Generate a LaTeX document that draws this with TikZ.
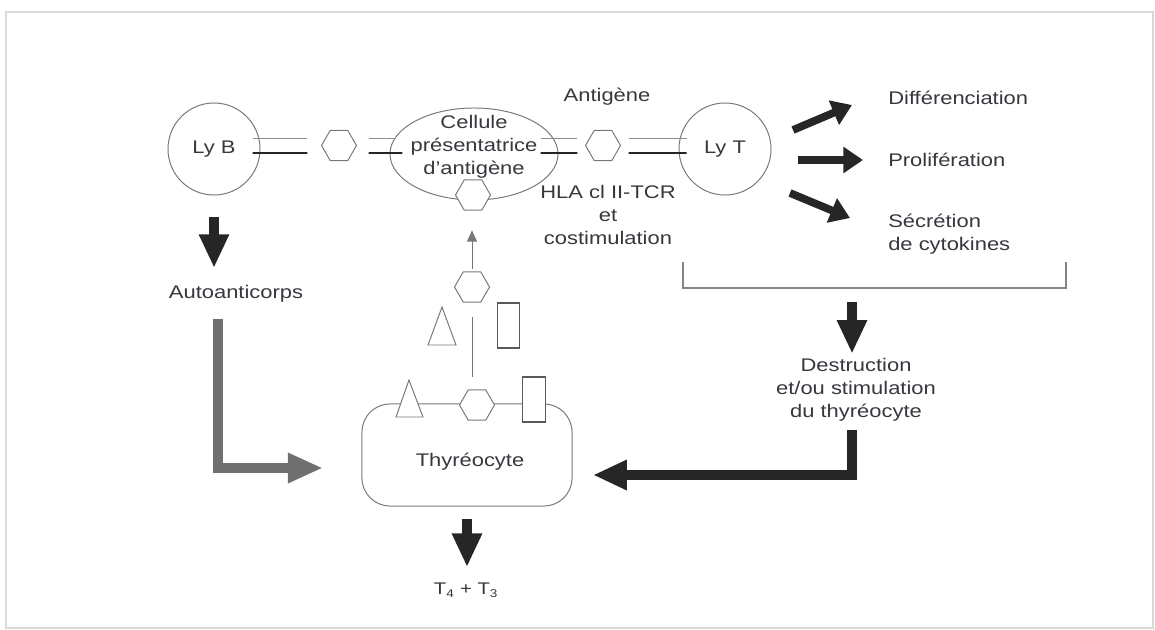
\documentclass[tikz,border=0pt]{standalone}
\usepackage{fontspec}
\setmainfont[FakeStretch=1.2]{Liberation Sans}
\usetikzlibrary{shapes.geometric,arrows.meta,calc}
\definecolor{txt}{RGB}{55,55,62}
\definecolor{edge}{RGB}{120,120,120}
\definecolor{ink}{RGB}{38,38,38}
\definecolor{autogray}{RGB}{112,112,112}

\begin{document}
\begin{tikzpicture}
  [x=0.025cm,y=-0.025cm,every node/.style={font=\fontsize{13}{16.5}\selectfont,text=txt,inner sep=0pt}]
  \tikzstyle{cell} = [draw=edge,line width=0.7pt,circle,minimum size=2.3cm]
  \tikzstyle{hexa} = [draw=edge,line width=0.7pt,fill=white,regular polygon,regular polygon sides=6,minimum size=0.875cm]
  \tikzstyle{bar} = [draw=black!65,line width=0.8pt,fill=white,minimum width=0.56cm,minimum height=1.125cm]
  \tikzstyle{tri} = [draw=edge,line width=0.7pt,fill=white]
  \tikzstyle{upline} = [draw=edge!85,line width=0.7pt]
  \tikzstyle{lowline} = [draw=ink,line width=1.1pt]
  \tikzstyle{bigarrow} = [draw=ink,line width=7pt,-{Triangle[length=24pt,width=20pt]}]
  \tikzstyle{smallarrow} = [draw=ink,line width=5.5pt,-{Triangle[length=14pt,width=18pt]}]
  \tikzstyle{grayarrow} = [draw=autogray,line width=7pt,-{Triangle[length=25pt,width=20pt]}]
  \tikzstyle{thinarrow} = [draw=edge,line width=0.7pt,-{Triangle[length=8pt,width=7pt]}]
  \useasboundingbox (0,0) rectangle (1155,630);
  \draw[gray!30,line width=1.4pt] (6,12) rectangle (1153,628);

  % cells and antigens
  \node[cell] (lyB) at (214,149) {Ly B};
  \node[hexa] (hexB) at (339,145.5) {};
  \node[draw=edge,line width=0.7pt,ellipse,minimum width=4.2cm,minimum height=2.3cm] (apc) at (474,154) {};
  \node[align=center] (apcText) at (474,147) {Cellule\\présentatrice\\d'antigène};
  \node[hexa] (hexP) at (473,195) {};
  \node[hexa] (hexA) at (603,145.5) {};
  \node[cell] (lyT) at (725,149) {Ly T};
  \node (antig) at (607,97) {Antigène};
  \node[align=center] (hla) at (608,215) {HLA cl II-TCR\\et\\costimulation};

  % bonds
  \draw[upline] ($(lyB.east)+(-8,-11)$) -- ($(hexB.west)+(-13.5,-7.5)$);
  \draw[lowline] ($(lyB.east)+(-8,4)$) -- ($(hexB.west)+(-13.5,7.5)$);
  \draw[upline] ($(hexB.east)+(11.5,-7.5)$) -- ($(apc.west)+(5,-16)$);
  \draw[lowline] ($(hexB.east)+(11.5,7.5)$) -- ($(apc.west)+(13,-1)$);
  \draw[upline] ($(apc.east)+(-18,-16)$) -- ($(hexA.west)+(-7.5,-7.5)$);
  \draw[lowline] ($(apc.east)+(-18,-1)$) -- ($(hexA.west)+(-7.5,7.5)$);
  \draw[upline] ($(hexA.east)+(7.5,-7.5)$) -- ($(lyT.west)+(8,-11)$);
  \draw[lowline] ($(hexA.east)+(7.5,7.5)$) -- ($(lyT.west)+(8,4)$);

  % T cell response
  \node[anchor=west] (dif) at (888,98) {Différenciation};
  \node[anchor=west] (prol) at (888,160) {Prolifération};
  \node[anchor=west,align=left] (secr) at (888,234) {Sécrétion\\de cytokines};
  \coordinate (difS) at (793,130); \coordinate (difE) at (852,105);
  \coordinate (prolS) at (798,160); \coordinate (prolE) at (863,160);
  \coordinate (secrS) at (790,193); \coordinate (secrE) at (850,218);
  \foreach \s/\e in {difS/difE,prolS/prolE,secrS/secrE}
    \draw[smallarrow] (\s) -- (\e);

  \coordinate (brL) at (683,262);
  \coordinate (brB) at (852,288);
  \coordinate (brR) at (1066,262);
  \draw[draw=edge!90,line width=1pt] (brL) |- (brB) -| (brR);
  \coordinate (brM) at (852,302);
  \node[anchor=north,align=center] (destr) at (856,358) {Destruction\\et/ou stimulation\\du thyréocyte};
  \draw[bigarrow,shorten >=3pt] (brM) -- (brM |- destr.north);

  % thyrocyte
  \node[draw=edge,line width=0.7pt,rounded corners=0.7cm,minimum width=5.25cm,minimum height=2.55cm] (thyr) at (467,455) {};
  \node (thyrText) at (470,462) {Thyréocyte};
  \draw[tri] (396,417) -- (409,380) -- (423,417) -- cycle;
  \node[hexa] (hexC) at (477,405) {};
  \node[bar] (barC) at (534,399.5) {};
  \node[hexa] (hexU) at (472,287) {};
  \draw[tri] (428,345) -- (442,307) -- (456,345) -- cycle;
  \node[bar] (barU) at (508.5,325.5) {};
  \draw[draw=edge,line width=0.7pt,shorten <=10.5pt,shorten >=8.5pt] (hexU.south) -- (hexU.south |- hexC.north);
  \draw[thinarrow,shorten <=2pt,shorten >=14pt] (hexU.north) -- (hexU.north |- hexP.south);

  \coordinate (thyrIn) at (593,475);
  \draw[bigarrow,shorten <=6pt] (brM |- destr.south) |- (thyrIn);

  % B cell side
  \node (auto) at (236,294) {Autoanticorps};
  \coordinate (bTip) at (214,268);
  \draw[bigarrow,shorten <=15pt] (lyB.south) -- (bTip);
  \coordinate (autoS) at (218,319);
  \coordinate (autoIn) at (323,468);
  \draw[grayarrow] (autoS) |- (autoIn);

  \node (horm) at (466,590) {\fontsize{12}{14}\selectfont T\textsubscript{4} + T\textsubscript{3}};
  \draw[bigarrow,shorten <=9pt,shorten >=11pt] (thyr.south) -- (thyr.south |- horm.north);
\end{tikzpicture}
\end{document}
